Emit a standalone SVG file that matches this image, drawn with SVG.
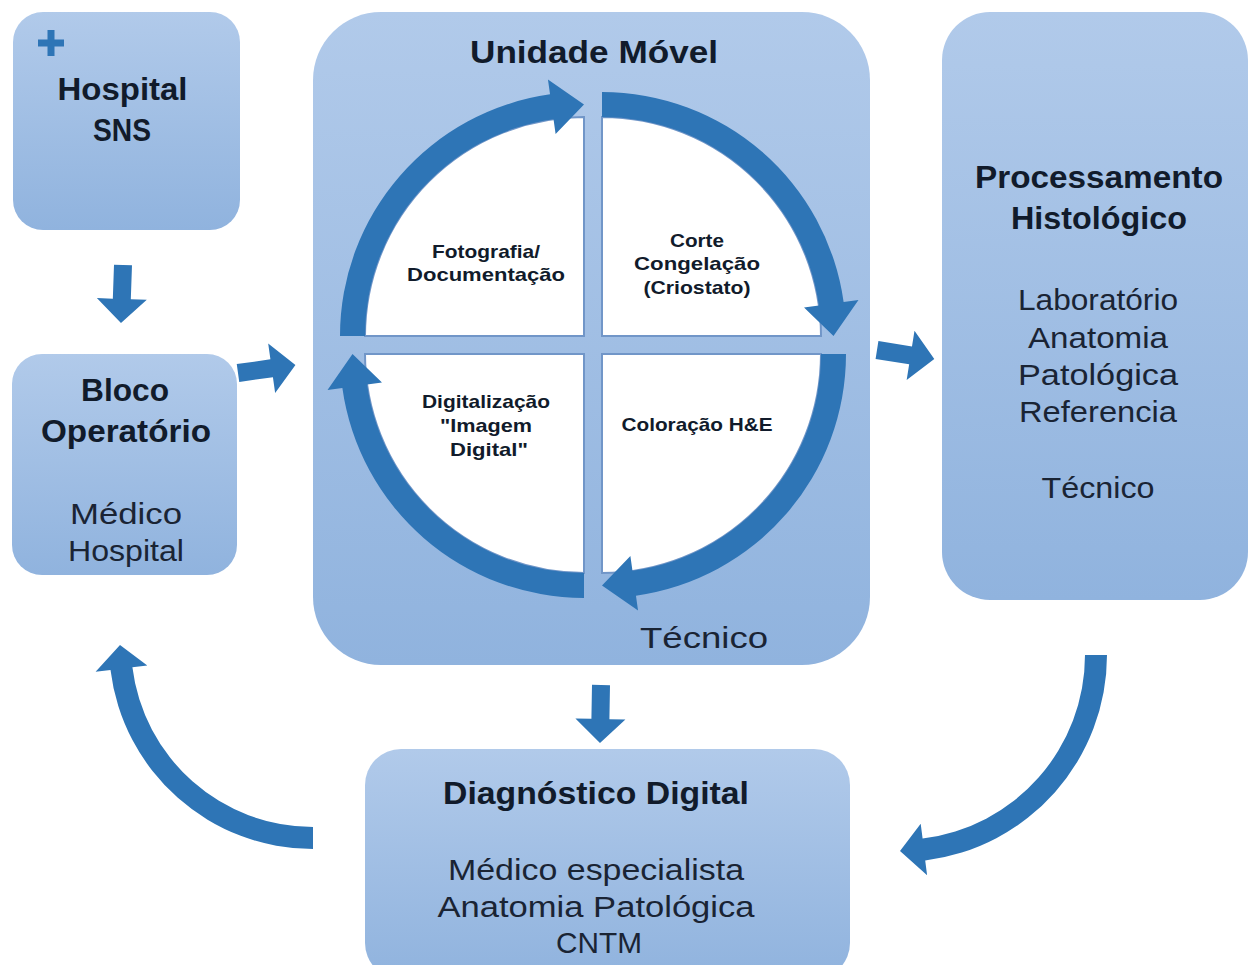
<svg xmlns="http://www.w3.org/2000/svg" xmlns:xlink="http://www.w3.org/1999/xlink" width="1249" height="965" viewBox="0 0 1249 965">
  <defs>
    <linearGradient id="gBox" x1="0" y1="0" x2="0" y2="1">
      <stop offset="0" stop-color="#b1caea"/>
      <stop offset="1" stop-color="#90b3de"/>
    </linearGradient>
    <path id="qa" d="M -244 0 A 244 244 0 0 1 -33.96 -241.63 L -36.05 -256.48 L 0 -231.5 L -28.39 -202.02 L -30.48 -216.87 A 219 219 0 0 0 -219 0 Z"/>
    <path id="qw" d="M 0 0 L -219 0 A 219 219 0 0 1 0 -219 Z"/>
    <path id="sa" d="M0 -9 L34 -9 L34 -25 L58 0 L34 25 L34 9 L0 9 Z"/>
  </defs>
  <style>
    .box { fill: url(#gBox); }
    .arr { fill: #2e75b6; }
    .quad { fill: #ffffff; stroke: #7196c8; stroke-width: 2; }
    .t { font-family: "Liberation Sans", Arial, sans-serif; fill: #111b2b; text-anchor: middle; }
    .b { font-weight: bold; font-size: 32px; }
    .r { font-size: 30px; fill: #1a2434; }
    .s { font-weight: bold; font-size: 19px; }
  </style>
  <rect width="1249" height="965" fill="#ffffff"/>

  <g id="hospital-sns">
    <rect class="box" x="13" y="12" width="227" height="218" rx="30"/>
    <path class="arr" d="M47.5 30 h7 v9.5 h9.5 v7 h-9.5 v9.5 h-7 v-9.5 h-9.5 v-7 h9.5 Z"/>
    <text class="t b" x="122.5" y="100" textLength="130" lengthAdjust="spacingAndGlyphs">Hospital</text>
    <text class="t b" x="122" y="141" textLength="58" lengthAdjust="spacingAndGlyphs">SNS</text>
  </g>

  <g id="bloco-operatorio">
    <rect class="box" x="12" y="354" width="225" height="221" rx="30"/>
    <text class="t b" x="125" y="401" textLength="88" lengthAdjust="spacingAndGlyphs">Bloco</text>
    <text class="t b" x="126" y="442" textLength="170" lengthAdjust="spacingAndGlyphs">Operatório</text>
    <text class="t r" x="126" y="524" textLength="112" lengthAdjust="spacingAndGlyphs">Médico</text>
    <text class="t r" x="126" y="561" textLength="116" lengthAdjust="spacingAndGlyphs">Hospital</text>
  </g>

  <g id="unidade-movel">
    <rect class="box" x="313" y="12" width="557" height="653" rx="68"/>
    <text class="t b" x="594" y="63" textLength="248" lengthAdjust="spacingAndGlyphs">Unidade Móvel</text>
    <use href="#qw" class="quad" transform="translate(584,336)"/>
    <use href="#qw" class="quad" transform="translate(602,336) rotate(90)"/>
    <use href="#qw" class="quad" transform="translate(602,354) rotate(180)"/>
    <use href="#qw" class="quad" transform="translate(584,354) rotate(270)"/>
    <use href="#qa" class="arr" transform="translate(584,336)"/>
    <use href="#qa" class="arr" transform="translate(602,336) rotate(90)"/>
    <use href="#qa" class="arr" transform="translate(602,354) rotate(180)"/>
    <use href="#qa" class="arr" transform="translate(584,354) rotate(270)"/>
    <text class="t s" x="486" y="258" textLength="108" lengthAdjust="spacingAndGlyphs">Fotografia/</text>
    <text class="t s" x="486" y="281" textLength="158" lengthAdjust="spacingAndGlyphs">Documentação</text>
    <text class="t s" x="697" y="247" textLength="54" lengthAdjust="spacingAndGlyphs">Corte</text>
    <text class="t s" x="697" y="270" textLength="126" lengthAdjust="spacingAndGlyphs">Congelação</text>
    <text class="t s" x="697" y="294" textLength="107" lengthAdjust="spacingAndGlyphs">(Criostato)</text>
    <text class="t s" x="486" y="408" textLength="128" lengthAdjust="spacingAndGlyphs">Digitalização</text>
    <text class="t s" x="486" y="432" textLength="92" lengthAdjust="spacingAndGlyphs">"Imagem</text>
    <text class="t s" x="489" y="456" textLength="78" lengthAdjust="spacingAndGlyphs">Digital"</text>
    <text class="t s" x="697" y="431" textLength="151" lengthAdjust="spacingAndGlyphs">Coloração H&amp;E</text>
    <text class="t r" x="704" y="648" textLength="128" lengthAdjust="spacingAndGlyphs">Técnico</text>
  </g>

  <g id="processamento-histologico">
    <rect class="box" x="942" y="12" width="306" height="588" rx="48"/>
    <text class="t b" x="1099" y="188" textLength="248" lengthAdjust="spacingAndGlyphs">Processamento</text>
    <text class="t b" x="1099" y="229" textLength="176" lengthAdjust="spacingAndGlyphs">Histológico</text>
    <text class="t r" x="1098" y="310" textLength="160" lengthAdjust="spacingAndGlyphs">Laboratório</text>
    <text class="t r" x="1098" y="348" textLength="140" lengthAdjust="spacingAndGlyphs">Anatomia</text>
    <text class="t r" x="1098" y="385" textLength="160" lengthAdjust="spacingAndGlyphs">Patológica</text>
    <text class="t r" x="1098" y="422" textLength="158" lengthAdjust="spacingAndGlyphs">Referencia</text>
    <text class="t r" x="1098" y="498" textLength="113" lengthAdjust="spacingAndGlyphs">Técnico</text>
  </g>

  <g id="diagnostico-digital">
    <rect class="box" x="365" y="749" width="485" height="230" rx="36"/>
    <text class="t b" x="596" y="804" textLength="306" lengthAdjust="spacingAndGlyphs">Diagnóstico Digital</text>
    <text class="t r" x="596" y="880" textLength="296" lengthAdjust="spacingAndGlyphs">Médico especialista</text>
    <text class="t r" x="596" y="917" textLength="317" lengthAdjust="spacingAndGlyphs">Anatomia Patológica</text>
    <text class="t r" x="599" y="953" textLength="86" lengthAdjust="spacingAndGlyphs">CNTM</text>
  </g>

  <g id="connectors">
    <use href="#sa" class="arr" transform="translate(123,265) rotate(92)"/>
    <use href="#sa" class="arr" transform="translate(238,373) rotate(-8)"/>
    <use href="#sa" class="arr" transform="translate(877,350) rotate(9)"/>
    <use href="#sa" class="arr" transform="translate(601,685) rotate(91)"/>
    <path class="arr" d="M 1085 655 L 1107 655 A 207 207 0 0 1 925.2 860.4 L 927.1 875.3 L 900 851 L 920.7 823.7 L 922.6 838.6 A 185 185 0 0 0 1085 655 Z"/>
    <path class="arr" d="M 313 827 L 313 849 A 204 204 0 0 1 110.5 669.9 L 95.6 671.7 L 120 645 L 147.3 665.4 L 132.4 667.2 A 182 182 0 0 0 313 827 Z"/>
  </g>
</svg>
